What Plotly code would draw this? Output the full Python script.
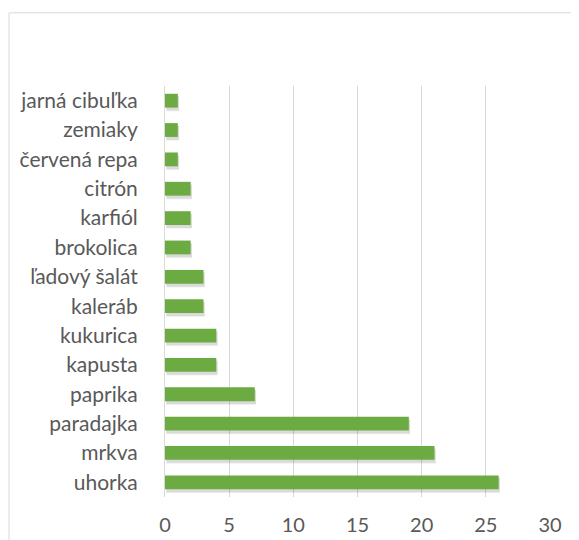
import plotly.graph_objects as go

# data (bottom to top, as drawn)
categories = ["uhorka", "mrkva", "paradajka", "paprika", "kapusta", "kukurica",
              "kaleráb", "ľadový šalát", "brokolica", "karfiól", "citrón",
              "červená repa", "zemiaky", "jarná cibuľka"]
values = [26, 21, 19, 7, 4, 4, 3, 3, 2, 2, 2, 1, 1, 1]
x_ticks = [0, 5, 10, 15, 20, 25, 30]

bar_w = 0.47
fig = go.Figure()

# soft drop shadow (two faint layers, shifted down/right)
for extra, alpha in [(0.06, 0.06), (0.0, 0.09)]:
    fig.add_trace(go.Bar(
        x=values, y=categories, orientation="h", base=0.1,
        width=bar_w + extra, offset=-bar_w / 2 - 0.1 - extra / 2,
        marker=dict(color=f"rgba(0,0,0,{alpha})", line=dict(width=0)),
        hoverinfo="skip", showlegend=False
    ))

fig.add_trace(go.Bar(
    x=values, y=categories, orientation="h",
    width=bar_w, offset=-bar_w / 2,
    marker=dict(color="#6cab41", line=dict(width=0)),
    showlegend=False
))

# page body has an 8px margin, so everything is pulled up/left by 8
fig.update_layout(
    width=579, height=540,
    margin=dict(l=157, r=37, t=78, b=47),
    barmode="overlay",
    plot_bgcolor="white", paper_bgcolor="white",
    font=dict(family="Lato, Open Sans, sans-serif", size=20, color="#595959"),
    xaxis=dict(range=[0, 30], tickvals=x_ticks, showgrid=True,
               gridcolor="#d9d9d9", gridwidth=1, zeroline=False,
               showline=False, ticks="", ticklabelstandoff=14,
               tickfont=dict(size=20)),
    yaxis=dict(categoryorder="array", categoryarray=categories,
               showgrid=False, showline=True, linecolor="#d9d9d9",
               linewidth=1, ticks="", ticklabelstandoff=22,
               tickfont=dict(size=21)),
    shapes=[dict(type="rect", xref="paper", yref="paper",
                 x0=-0.405, x1=2, y0=-1, y1=1.178,
                 line=dict(color="#d9d9d9", width=1), layer="below")],
)

fig.write_html("out.html")
